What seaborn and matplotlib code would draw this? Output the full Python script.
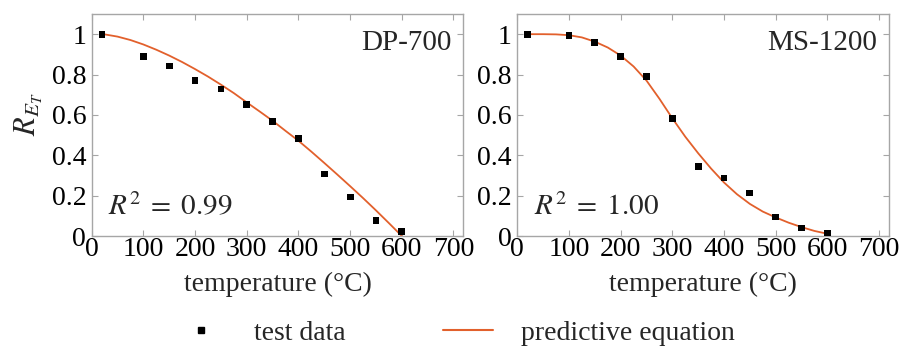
import numpy as np
import pandas as pd
import matplotlib
matplotlib.use("Agg")
import matplotlib.pyplot as plt
from matplotlib.lines import Line2D
import seaborn as sns

# Measured retention factor of elastic modulus
test_temps = [20, 100, 150, 200, 250, 300, 350, 400, 450, 500, 550, 600]
dp700_test = [1.000, 0.891, 0.842, 0.771, 0.728, 0.653, 0.569, 0.485, 0.307, 0.193, 0.076, 0.021]
ms1200_test = [0.998, 0.993, 0.960, 0.891, 0.792, 0.581, 0.345, 0.287, 0.213, 0.094, 0.040, 0.015]

# Predictive equation values
eq_temps = [20, 25, 50, 75, 100, 125, 150, 175, 200, 225, 250, 275, 300,
            325, 350, 375, 400, 425, 450, 475, 500, 525, 550, 575, 600]
dp700_eq = [1.000, 0.999, 0.988, 0.971, 0.949, 0.923, 0.894, 0.862, 0.827, 0.790,
            0.750, 0.708, 0.662, 0.617, 0.571, 0.521, 0.472, 0.418, 0.362, 0.305,
            0.247, 0.188, 0.127, 0.064, 0.000]
ms1200_eq = [1.000, 1.000, 1.000, 0.999, 0.995, 0.984, 0.963, 0.934, 0.894, 0.840,
             0.770, 0.680, 0.583, 0.492, 0.410, 0.334, 0.265, 0.207, 0.159, 0.121,
             0.092, 0.066, 0.044, 0.025, 0.011]

panels = ["DP-700", "MS-1200"]
r2_labels = ["0.99", "1.00"]
x_ticks = [0, 100, 200, 300, 400, 500, 600, 700]
y_ticks = [0, 0.2, 0.4, 0.6, 0.8, 1.0]
y_tick_labels = ["0", "0.2", "0.4", "0.6", "0.8", "1"]

sns.set_theme(style="ticks")
plt.rcParams["font.family"] = ["Liberation Serif", "DejaVu Serif"]
plt.rcParams["mathtext.fontset"] = "stix"

LINE_COLOR = "#E2602C"
FRAME_COLOR = "#A6A6A6"
FS = 20

fig = plt.figure(figsize=(9.05, 3.49), dpi=100)
W, H = 905, 349
ax1 = fig.add_axes([91.7 / W, (H - 236) / H, 371.6 / W, 222 / H])
ax2 = fig.add_axes([517.3 / W, (H - 236) / H, 371.6 / W, 222 / H])

series = [(dp700_test, dp700_eq), (ms1200_test, ms1200_eq)]
for ax, name, r2, (test_vals, eq_vals) in zip([ax1, ax2], panels, r2_labels, series):
    eq_df = pd.DataFrame({"T": eq_temps, "R": eq_vals})
    test_df = pd.DataFrame({"T": test_temps, "R": test_vals})
    sns.lineplot(data=eq_df, x="T", y="R", ax=ax, color=LINE_COLOR, lw=1.3,
                 zorder=2, legend=False)
    sns.scatterplot(data=test_df, x="T", y="R", ax=ax, marker="s", s=24,
                    color="black", edgecolor="none", zorder=3, legend=False)
    ax.set_xlim(0, 719)
    ax.set_ylim(0, 1.1)
    ax.set_xticks(x_ticks)
    ax.set_yticks(y_ticks)
    ax.set_yticklabels(y_tick_labels)
    for side in ax.spines.values():
        side.set_color(FRAME_COLOR)
        side.set_linewidth(1.0)
    ax.tick_params(direction="in", length=4, width=0.8, color=FRAME_COLOR,
                   labelsize=FS, top=True, right=True, labelcolor="black")
    ax.tick_params(axis="x", pad=1)
    ax.tick_params(axis="y", pad=4)
    ax.set_xlabel("temperature (°C)", fontsize=FS, labelpad=7)
    ax.set_ylabel("")
    ax.text(0.969, 0.87, name, transform=ax.transAxes, ha="right", va="center",
            fontsize=21)
    ax.text(0.044, 0.13, r"$R^2\;=\;" + r2 + "$", transform=ax.transAxes,
            ha="left", va="center", fontsize=21)

ax1.set_ylabel(r"$R_{E_T}$", fontsize=22)
ax1.yaxis.set_label_coords(-0.127, 0.55)

handles = [
    Line2D([], [], marker="s", color="black", linestyle="none", markersize=4),
    Line2D([], [], color=LINE_COLOR, lw=1.5),
]
fig.legend(handles, ["test data", "predictive equation"], loc="center",
           bbox_to_anchor=(455.5 / W, (H - 333) / H), ncol=2, frameon=False,
           fontsize=FS, handlelength=1.8, handletextpad=1.0, columnspacing=3.5,
           borderpad=0)

fig.savefig("out.png", dpi=100)
